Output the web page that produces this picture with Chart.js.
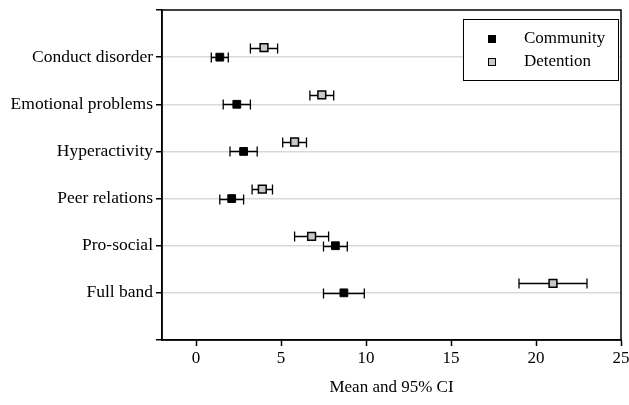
<!DOCTYPE html>
<html>
<head>
<meta charset="utf-8">
<script src="https://cdn.jsdelivr.net/npm/chart.js@4"></script>
<style>
  html, body { margin: 0; padding: 0; background: #fff; }
  #wrap { width: 629px; height: 405px; }
</style>
</head>
<body>
<div id="wrap"><canvas id="chart" width="629" height="405"></canvas></div>
<script>
// Datos
const categories = ['Conduct disorder', 'Emotional problems', 'Hyperactivity', 'Peer relations', 'Pro-social', 'Full band'];
const communityMean = [1.4, 2.4, 2.8, 2.1, 8.2, 8.7];
const communityLow  = [0.9, 1.6, 2.0, 1.4, 7.5, 7.5];
const communityHigh = [1.9, 3.2, 3.6, 2.8, 8.9, 9.9];
const detentionMean = [4.0, 7.4, 5.8, 3.9, 6.8, 21.0];
const detentionLow  = [3.2, 6.7, 5.1, 3.3, 5.8, 19.0];
const detentionHigh = [4.8, 8.1, 6.5, 4.5, 7.8, 23.0];
const xTicks = [0, 5, 10, 15, 20, 25];

const FONT = '"Liberation Serif", "Times New Roman", serif';
const DET_SHIFT = -0.2; // detention se dibuja un poco por encima

function puntos(medias, bajos, altos, shift) {
    return medias.map((m, i) => ({ x: m, y: i + 1 + shift, lo: bajos[i], hi: altos[i] }));
}

// Barras de error (debajo de los puntos)
const errorBars = {
    id: 'errorBars',
    beforeDatasetsDraw(chart) {
        const { ctx, scales: { x, y } } = chart;
        ctx.save();
        ctx.strokeStyle = '#000';
        ctx.lineWidth = 1.3;
        chart.data.datasets.forEach(ds => {
            ds.data.forEach(p => {
                const py = Math.round(y.getPixelForValue(p.y)) + 0.5;
                const x1 = x.getPixelForValue(p.lo);
                const x2 = x.getPixelForValue(p.hi);
                ctx.beginPath();
                ctx.moveTo(x1, py); ctx.lineTo(x2, py);
                ctx.moveTo(x1, py - 5); ctx.lineTo(x1, py + 5);
                ctx.moveTo(x2, py - 5); ctx.lineTo(x2, py + 5);
                ctx.stroke();
            });
        });
        ctx.restore();
    }
};

// Marco y leyenda dentro del area
const marcoLeyenda = {
    id: 'marcoLeyenda',
    afterDraw(chart) {
        const { ctx, chartArea: a } = chart;
        ctx.save();
        ctx.strokeStyle = '#000';
        ctx.lineWidth = 1.5;
        ctx.strokeRect(a.left, a.top, a.right - a.left, a.bottom - a.top);

        const w = 155, h = 61;
        const lx = a.right - 3 - w, ly = a.top + 9;
        ctx.fillStyle = '#fff';
        ctx.fillRect(lx, ly, w, h);
        ctx.lineWidth = 1;
        ctx.strokeRect(lx + 0.5, ly + 0.5, w, h);

        ctx.font = '17px ' + FONT;
        ctx.textBaseline = 'middle';
        chart.data.datasets.forEach((ds, i) => {
            const cy = ly + 20 + i * 23;
            ctx.fillStyle = ds.backgroundColor;
            ctx.fillRect(lx + 25, cy - 4, 8, 8);
            ctx.strokeStyle = '#000';
            ctx.strokeRect(lx + 25.5, cy - 3.5, 7, 7);
            ctx.fillStyle = '#000';
            ctx.fillText(ds.label, lx + 61, cy);
        });
        ctx.restore();
    }
};

new Chart(document.getElementById('chart'), {
    type: 'scatter',
    data: {
        datasets: [
            {
                label: 'Community',
                data: puntos(communityMean, communityLow, communityHigh, 0),
                backgroundColor: '#000',
                borderColor: '#000',
                pointStyle: 'rect',
                pointRadius: 5.5,
                borderWidth: 1
            },
            {
                label: 'Detention',
                data: puntos(detentionMean, detentionLow, detentionHigh, DET_SHIFT),
                backgroundColor: '#c8c8c8',
                borderColor: '#000',
                pointStyle: 'rect',
                pointRadius: 5.5,
                borderWidth: 1.5
            }
        ]
    },
    options: {
        responsive: false,
        animation: false,
        layout: { padding: { left: 0, right: 8, top: 10, bottom: 0 } },
        plugins: { legend: { display: false }, tooltip: { enabled: false } },
        scales: {
            x: {
                type: 'linear',
                min: -2,
                max: 25,
                afterBuildTicks: s => { s.ticks = xTicks.map(v => ({ value: v })); },
                afterFit: s => { s.height = 65; s.paddingLeft = 0; s.paddingRight = 0; },
                border: { display: true, color: '#000', width: 1.5 },
                grid: { drawOnChartArea: false, tickLength: 6, tickColor: '#000', tickWidth: 1.5 },
                ticks: { color: '#000', font: { family: FONT, size: 17 }, padding: 2 },
                title: { display: true, text: 'Mean and 95% CI', color: '#000', font: { family: FONT, size: 17 }, padding: { top: 0, bottom: 7 } }
            },
            y: {
                type: 'linear',
                min: 0,
                max: 7,
                reverse: true,
                afterBuildTicks: s => { s.ticks = [0, 1, 2, 3, 4, 5, 6, 7].map(v => ({ value: v })); },
                afterFit: s => { s.width = 162; s.paddingTop = 0; s.paddingBottom = 0; },
                border: { display: true, color: '#000', width: 1.5 },
                grid: {
                    color: c => (c.tick && c.tick.value > 0 && c.tick.value < 7) ? '#d9d9d9' : 'rgba(0,0,0,0)',
                    lineWidth: 1.5,
                    tickLength: 6,
                    tickColor: '#000',
                    tickWidth: 1.5
                },
                ticks: {
                    color: '#000',
                    font: { family: FONT, size: 17.5 },
                    padding: 3,
                    callback: v => categories[v - 1] || ''
                }
            }
        }
    },
    plugins: [errorBars, marcoLeyenda]
});
</script>
</body>
</html>
